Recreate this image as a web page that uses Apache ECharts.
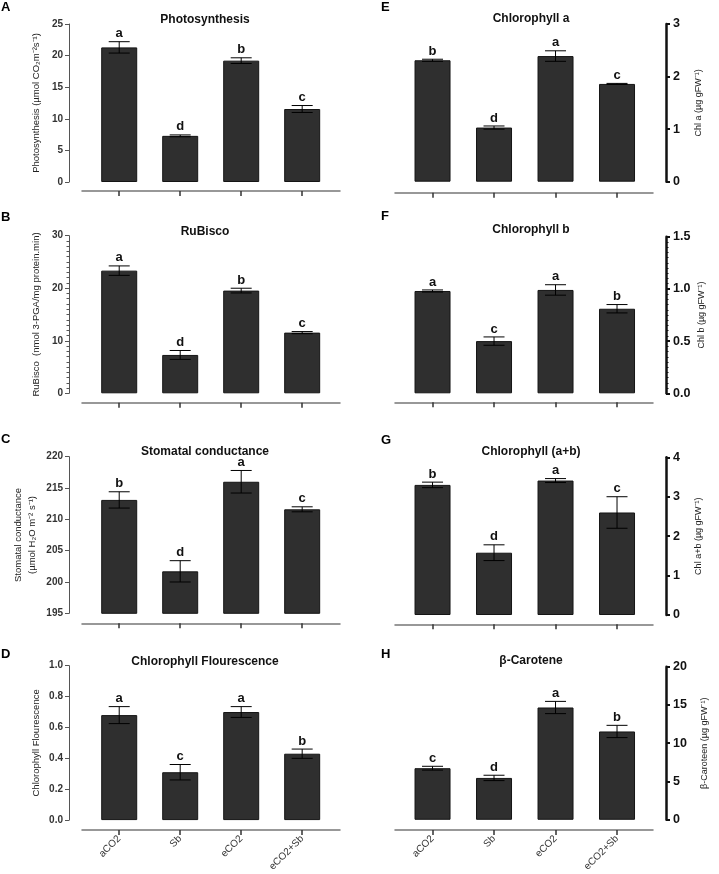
<!DOCTYPE html>
<html><head><meta charset="utf-8">
<script src="https://cdn.jsdelivr.net/npm/echarts@6/dist/echarts.min.js"></script>
<style>html,body{margin:0;padding:0;background:#fff}#c{width:719px;height:874px}</style>
</head><body><div id="c"></div>
<script>
// ---------- DATA ----------
const categories = ['aCO2', 'Sb', 'eCO2', 'eCO2+Sb'];

const photoValues = [21.3, 7.3, 19.2, 11.55];
const photoErrors = [0.9, 0.15, 0.45, 0.55];
const photoLetters = ['a', 'd', 'b', 'c'];

const rubiscoValues = [23.35, 7.3, 19.55, 11.55];
const rubiscoErrors = [0.9, 0.85, 0.45, 0.2];
const rubiscoLetters = ['a', 'd', 'b', 'c'];

const stomatalValues = [213.1, 201.7, 216.0, 211.6];
const stomatalErrors = [1.3, 1.7, 1.8, 0.4];
const stomatalLetters = ['b', 'd', 'a', 'c'];

const fluorValues = [0.68, 0.31, 0.70, 0.43];
const fluorErrors = [0.055, 0.05, 0.035, 0.03];
const fluorLetters = ['a', 'c', 'a', 'b'];

const chlAValues = [2.31, 1.03, 2.39, 1.86];
const chlAErrors = [0.02, 0.03, 0.1, 0.01];
const chlALetters = ['b', 'd', 'a', 'c'];

const chlBValues = [0.98, 0.50, 0.99, 0.81];
const chlBErrors = [0.01, 0.04, 0.05, 0.04];
const chlBLetters = ['a', 'c', 'a', 'b'];

const chlABValues = [3.30, 1.58, 3.41, 2.60];
const chlABErrors = [0.07, 0.2, 0.05, 0.4];
const chlABLetters = ['b', 'd', 'a', 'c'];

const caroteneValues = [6.74, 5.47, 14.67, 11.54];
const caroteneErrors = [0.25, 0.35, 0.8, 0.8];
const caroteneLetters = ['c', 'd', 'a', 'b'];

const yTicksA = {min: 0, max: 25, interval: 5};
const yTicksB = {min: 0, max: 30, interval: 10};
const yTicksC = {min: 195, max: 220, interval: 5};
const yTicksD = {min: 0, max: 1, interval: 0.2};
const yTicksE = {min: 0, max: 3, interval: 1};
const yTicksF = {min: 0, max: 1.5, interval: 0.5};
const yTicksG = {min: 0, max: 4, interval: 1};
const yTicksH = {min: 0, max: 20, interval: 5};

// ---------- LAYOUT ----------
const FONT = '"Liberation Sans", Arial, sans-serif';
const panels = [
  {label:'A', title:'Photosynthesis', v:photoValues, e:photoErrors, l:photoLetters, t:yTicksA,
   name:'Photosynthesis (µmol CO₂m⁻²s⁻¹)', side:'left', top:24, bot:182, xoff:9, labelY:1, titleY:14, gap:26, dec:0},
  {label:'B', title:'RuBisco', v:rubiscoValues, e:rubiscoErrors, l:rubiscoLetters, t:yTicksB,
   name:'RuBisco  (nmol 3-PGA/mg protein.min)', side:'left', top:235.7, bot:393.3, xoff:9.4, labelY:211, titleY:226, gap:26, dec:0, minor:true},
  {label:'C', title:'Stomatal conductance', v:stomatalValues, e:stomatalErrors, l:stomatalLetters, t:yTicksC,
   name:'Stomatal conductance\n(µmol H₂O m⁻² s⁻¹)', side:'left', top:456.7, bot:613.3, xoff:10, labelY:433, titleY:446, gap:30, dec:0},
  {label:'D', title:'Chlorophyll Flourescence', v:fluorValues, e:fluorErrors, l:fluorLetters, t:yTicksD,
   name:'Chlorophyll Flourescence', side:'left', top:665.7, bot:822, xoff:10, labelY:648, titleY:656, gap:26, dec:1, xlabels:true},
  {label:'E', title:'Chlorophyll a', v:chlAValues, e:chlAErrors, l:chlALetters, t:yTicksE,
   name:'Chl a (µg gFW⁻¹)', side:'right', top:24, bot:181.7, xoff:11, labelY:1, titleY:13, gap:26, dec:0},
  {label:'F', title:'Chlorophyll b', v:chlBValues, e:chlBErrors, l:chlBLetters, t:yTicksF,
   name:'Chl b (µg gFW⁻¹)', side:'right', top:236.7, bot:393.3, xoff:9, labelY:210, titleY:224, gap:26, dec:1, minor:true},
  {label:'G', title:'Chlorophyll (a+b)', v:chlABValues, e:chlABErrors, l:chlABLetters, t:yTicksG,
   name:'Chl a+b (µg gFW⁻¹)', side:'right', top:457.3, bot:615, xoff:9.3, labelY:434, titleY:446, gap:26, dec:0},
  {label:'H', title:'β-Carotene', v:caroteneValues, e:caroteneErrors, l:caroteneLetters, t:yTicksH,
   name:'β-Caroteen (µg gFW⁻¹)', side:'right', top:666.7, bot:824, xoff:10.3, labelY:648, titleY:655, gap:32, dec:0, xlabels:true}
];

const grids = [], xAxes = [], yAxes = [], series = [], titles = [];
panels.forEach((p, gi) => {
  const left = p.side === 'left';
  const gLeft = left ? 82 : 395;
  grids.push({left: gLeft, width: 258, top: p.top, height: p.bot - p.top});
  xAxes.push({
    type: 'value', gridIndex: gi, min: -0.61, max: left ? 3.62 : 3.585, offset: p.xoff, position: 'bottom',
    splitLine: {show: false},
    axisLine: {show: true, onZero: false, lineStyle: {color: '#777', width: 1.5}},
    axisTick: {show: true, customValues: [0, 1, 2, 3], length: 5, lineStyle: {color: '#333', width: 1.5}},
    axisLabel: {show: !!p.xlabels, customValues: [0, 1, 2, 3], rotate: 45, margin: 7,
      fontFamily: FONT, fontSize: 10, color: '#333', formatter: v => categories[Math.round(v)]}
  });
  yAxes.push({
    type: 'value', gridIndex: gi, position: p.side, offset: 13,
    min: p.t.min, max: p.t.max, interval: p.t.interval,
    splitLine: {show: false},
    axisLine: {show: true, onZero: false, lineStyle: {color: left ? '#555' : '#111', width: left ? 1 : 2.5}},
    axisTick: {show: true, length: 4, lineStyle: {color: left ? '#555' : '#111', width: left ? 1 : 2}},
    minorTick: {show: !!p.minor, splitNumber: 10, length: 2.5, lineStyle: {color: left ? '#555' : '#111'}},
    axisLabel: {fontFamily: FONT, fontWeight: 'bold', fontSize: left ? 10 : 12.5, color: left ? '#333' : '#111',
      margin: left ? 6 : 7, formatter: v => v.toFixed(p.dec)},
    name: p.name, nameLocation: 'middle', nameRotate: 90, nameGap: p.gap,
    nameTextStyle: {fontFamily: FONT, fontSize: left ? 9.5 : 9, color: '#222', lineHeight: 14}
  });
  series.push({
    type: 'bar', xAxisIndex: gi, yAxisIndex: gi, barWidth: 36,
    data: p.v.map((v, i) => [i, v]),
    itemStyle: {color: '#2f2f2f', borderColor: '#151515', borderWidth: 1},
    silent: true
  });
  series.push({
    type: 'custom', xAxisIndex: gi, yAxisIndex: gi, z: 5, clip: false,
    data: p.v.map((v, i) => [i, v + p.e[i], v - p.e[i]]),
    renderItem: (params, api) => {
      const x = api.value(0);
      const hi = api.coord([x, api.value(1)]);
      const lo = api.coord([x, api.value(2)]);
      const hw = 10.5;
      const st = {stroke: '#000', lineWidth: 1};
      return {type: 'group', children: [
        {type: 'line', shape: {x1: hi[0], y1: hi[1], x2: lo[0], y2: lo[1]}, style: st},
        {type: 'line', shape: {x1: hi[0] - hw, y1: hi[1], x2: hi[0] + hw, y2: hi[1]}, style: st},
        {type: 'line', shape: {x1: lo[0] - hw, y1: lo[1], x2: lo[0] + hw, y2: lo[1]}, style: st},
        {type: 'text', style: {text: p.l[params.dataIndex], x: hi[0], y: hi[1] - 1.5, align: 'center',
          verticalAlign: 'bottom', font: 'bold 13px ' + FONT, fill: '#111'}}
      ]};
    }
  });
  titles.push({text: p.title, left: left ? 205 : 531, top: p.titleY, textAlign: 'center',
    textStyle: {fontFamily: FONT, fontWeight: 'bold', fontSize: 12, color: '#111'}, padding: 0});
  titles.push({text: p.label, left: left ? 1 : 381, top: p.labelY, padding: 0,
    textStyle: {fontFamily: FONT, fontWeight: 'bold', fontSize: 13, color: '#000'}});
});

const chart = echarts.init(document.getElementById('c'), null, {renderer: 'canvas'});
chart.setOption({
  animation: false, backgroundColor: '#fff',
  title: titles, grid: grids, xAxis: xAxes, yAxis: yAxes, series: series
});
</script></body></html>
